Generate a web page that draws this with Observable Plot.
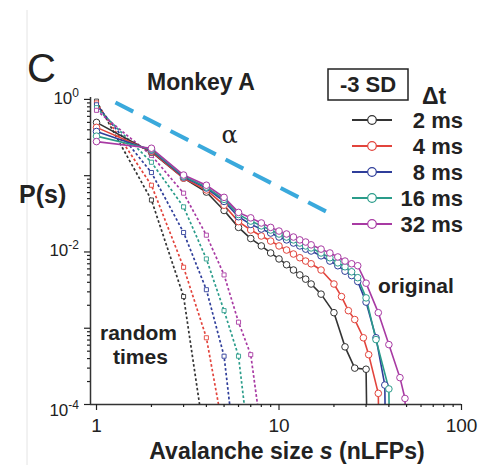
<!DOCTYPE html>
<html><head><meta charset="utf-8">
<script src="https://cdn.jsdelivr.net/npm/d3@7"></script>
<script src="https://cdn.jsdelivr.net/npm/@observablehq/plot@0.6"></script>
<style>
html,body{margin:0;padding:0;background:#fff;}
#chart{width:485px;height:465px;}
</style></head><body><div id="chart"></div>
<script>
// ---- data ----
const dtLabels = ["2 ms","4 ms","8 ms","16 ms","32 ms"];
const colors = ["#333333","#e2443c","#2f3e9a","#2a9c8a","#a83aa3"];

// original (solid, open circles)
const orig2S  = [1,2,3,4,5,6,7,8,9,10,11,12,13,14,15,17,20,23,26,30,31];
const orig2P  = [0.50,0.203,0.093,0.061,0.035,0.021,0.015,0.012,0.0097,0.0081,0.0068,0.0058,0.0050,0.0044,0.0038,0.0028,0.0016,0.00057,0.00030,0.00029,0.000001];
const orig4S  = [1,2,3,4,5,6,7,8,9,10,11,12,13,14,15,17,20,22,24,26,29,31,35,36];
const orig4P  = [0.43,0.209,0.093,0.065,0.041,0.025,0.0194,0.0162,0.0139,0.012,0.0106,0.0094,0.0084,0.0076,0.0070,0.0058,0.0038,0.0026,0.0017,0.0013,0.00075,0.00045,0.00014,0.000001];
const orig8S  = [1,2,3,4,5,6,7,8,9,10,11,12,13,14,15,17,19,21,23,25,27,30,34,38,39];
const orig8P  = [0.38,0.216,0.096,0.069,0.046,0.029,0.023,0.020,0.0177,0.0157,0.0144,0.0131,0.012,0.0109,0.0103,0.0089,0.0076,0.0066,0.0056,0.0049,0.0041,0.0022,0.00075,0.00018,0.000001];
const orig16S = [1,2,3,4,5,6,7,8,9,10,11,12,13,14,15,17,19,21,23,25,27,30,34,40,41];
const orig16P = [0.33,0.222,0.0985,0.071,0.049,0.031,0.0254,0.022,0.0194,0.0172,0.0157,0.0144,0.0131,0.012,0.0113,0.0097,0.0084,0.0072,0.0064,0.0055,0.0046,0.0025,0.00071,0.00016,0.000001];
const orig32S = [1,2,3,4,5,6,7,8,9,10,11,12,13,14,15,17,19,21,23,25,27,30,35,40,46,49,52];
const orig32P = [0.28,0.229,0.102,0.075,0.052,0.033,0.028,0.024,0.021,0.0188,0.0172,0.0157,0.0144,0.0135,0.0124,0.0109,0.0097,0.0086,0.0076,0.0070,0.0066,0.0039,0.0016,0.00061,0.000225,0.00012,0.000001];

// random times (dotted, small squares)
const rand2S  = [1,2,3,4];
const rand2P  = [0.95,0.048,0.0026,0.000025];
const rand4S  = [1,2,3,4,5];
const rand4P  = [0.9,0.075,0.0063,0.00075,0.00004];
const rand8S  = [1,2,3,4,5,6];
const rand8P  = [0.85,0.11,0.018,0.0032,0.00043,0.00001];
const rand16S = [1,2,3,4,5,6,7];
const rand16P = [0.78,0.15,0.039,0.0081,0.0017,0.00043,0.000019];
const rand32S = [1,2,3,4,5,6,7,8];
const rand32P = [0.72,0.185,0.059,0.0166,0.005,0.0012,0.00045,0.000043];

// power-law guide (alpha)
const guideS = [1.27, 19];
const guideP = [0.914, 0.032];

const xTickValues = [1,10,100];
const yTickLabelValues = [1,1e-2,1e-4];
const yTickLabelExp = ["0","-2","-4"];

// ---- build tables ----
const origS = [orig2S,orig4S,orig8S,orig16S,orig32S];
const origP = [orig2P,orig4P,orig8P,orig16P,orig32P];
const randS = [rand2S,rand4S,rand8S,rand16S,rand32S];
const randP = [rand2P,rand4P,rand8P,rand16P,rand32P];
const orig = [], rand = [];
dtLabels.forEach((dt,i)=>{
  origS[i].forEach((s,j)=>orig.push({s, p: origP[i][j], dt}));
  randS[i].forEach((s,j)=>rand.push({s, p: randP[i][j], dt}));
});
const guide = guideS.map((s,i)=>({s, p: guideP[i]}));

const xMinor = [], yMinor = [];
[1,10].forEach(d=>{for(let k=2;k<=9;k++) xMinor.push(k*d);});
[-4,-3,-2,-1].forEach(e=>{for(let k=2;k<=9;k++) yMinor.push(k*Math.pow(10,e));});
const yMajor = [1,0.1,0.01,0.001,1e-4];

const FONT = "'Liberation Sans', Arial, Helvetica, sans-serif";

const plot = Plot.plot({
  width: 485, height: 465,
  marginLeft: 90, marginRight: 24, marginTop: 97, marginBottom: 61,
  x: {type: "log", domain: [0.927, 100]},
  y: {type: "log", domain: [1e-4, 1.06]},
  color: {domain: dtLabels, range: colors},
  style: {fontFamily: FONT, background: "white", color: "#222"},
  marks: [
    Plot.line(rand, {x: "s", y: "p", stroke: "dt", strokeWidth: 1.7, strokeDasharray: "2.6,2.2", strokeLinecap: "butt", clip: true}),
    Plot.dot(rand, {x: "s", y: "p", stroke: "dt", symbol: "square", r: 2.3, fill: "white", strokeWidth: 0.9, clip: true}),
    Plot.line(orig, {x: "s", y: "p", stroke: "dt", strokeWidth: 1.6, clip: true}),
    Plot.dot(orig, {x: "s", y: "p", stroke: "dt", r: 3.3, fill: "white", strokeWidth: 1, clip: true}),
    Plot.line(guide, {x: "s", y: "p", stroke: "#3aa9dc", strokeWidth: 4, strokeDasharray: "20,11", strokeLinecap: "butt"}),
    Plot.ruleX([0.927], {stroke: "#333", strokeWidth: 1.5}),
    Plot.ruleY([1e-4], {stroke: "#333", strokeWidth: 1.5}),
    Plot.axisX({ticks: xMinor, tickSize: 3, tickFormat: () => "", label: null, strokeWidth: 1.2}),
    Plot.axisX({ticks: xTickValues, tickSize: 6, tickPadding: 8, fontSize: 19, tickFormat: d => String(d), label: null, strokeWidth: 1.2}),
    Plot.axisY({ticks: yMinor, tickSize: 3, tickFormat: () => "", label: null, strokeWidth: 1.2}),
    Plot.axisY({ticks: yMajor, tickSize: 6, tickFormat: () => "", label: null, strokeWidth: 1.2})
  ]
});
document.getElementById("chart").appendChild(plot);

const svg = d3.select(plot);
const ys = plot.scale("y"), xs = plot.scale("x");

// faint panel edge
svg.append("line").attr("x1",27).attr("x2",27).attr("y1",10).attr("y2",465)
  .attr("stroke","#e4e4e4").attr("stroke-width",1);

function txt(x, y, s, size, weight, anchor){
  return svg.append("text").attr("x",x).attr("y",y).text(s)
    .attr("font-family",FONT).attr("font-size",size).attr("font-weight",weight||"normal")
    .attr("text-anchor",anchor||"start").attr("fill","#222");
}

// y tick labels with superscripts
yTickLabelValues.forEach((v,i)=>{
  const yy = ys.apply(v) + (i===2 ? 12 : 5);
  const t = svg.append("text").attr("x",79).attr("y",yy).attr("text-anchor","end")
    .attr("font-family",FONT).attr("font-size",17).attr("fill","#222");
  t.append("tspan").text("10");
  t.append("tspan").attr("dy",-7).attr("font-size",12).text(yTickLabelExp[i]);
});

// panel letter and titles
txt(27, 82, "C", 40);
txt(147, 90, "Monkey A", 23, "bold");
txt(19, 203, "P(s)", 25, "bold");

// -3 SD box
svg.append("rect").attr("x",328).attr("y",69).attr("width",80).attr("height",31)
  .attr("fill","none").attr("stroke","#222").attr("stroke-width",1.5);
txt(368, 92, "-3 SD", 22, "bold", "middle");
txt(422, 104, "\u0394t", 23, "bold");

// legend
const legY = [120,146,172,198,224];
dtLabels.forEach((d,i)=>{
  svg.append("line").attr("x1",352).attr("x2",392).attr("y1",legY[i]).attr("y2",legY[i])
    .attr("stroke",colors[i]).attr("stroke-width",2.2);
  svg.append("circle").attr("cx",372).attr("cy",legY[i]).attr("r",4.3)
    .attr("fill","white").attr("stroke",colors[i]).attr("stroke-width",1.2);
  txt(463, legY[i]+8, d, 22, "bold", "end");
});

// alpha label
svg.append("text").attr("x",xs.apply(5.4)).attr("y",ys.apply(0.34)+8).text("\u03b1")
  .attr("font-family","'DejaVu Serif', 'Liberation Serif', serif").attr("font-size",24)
  .attr("text-anchor","middle").attr("fill","#222");

// annotations
txt(378, 293, "original", 21, "bold");
txt(100, 340, "random", 21, "bold");
txt(113, 364, "times", 21, "bold");

// x axis label
const xl = svg.append("text").attr("x",287).attr("y",459).attr("text-anchor","middle")
  .attr("font-family",FONT).attr("font-size",23).attr("font-weight","bold").attr("fill","#222");
xl.append("tspan").text("Avalanche size ");
xl.append("tspan").attr("font-style","italic").text("s");
xl.append("tspan").text(" (nLFPs)");
</script>
</body></html>
